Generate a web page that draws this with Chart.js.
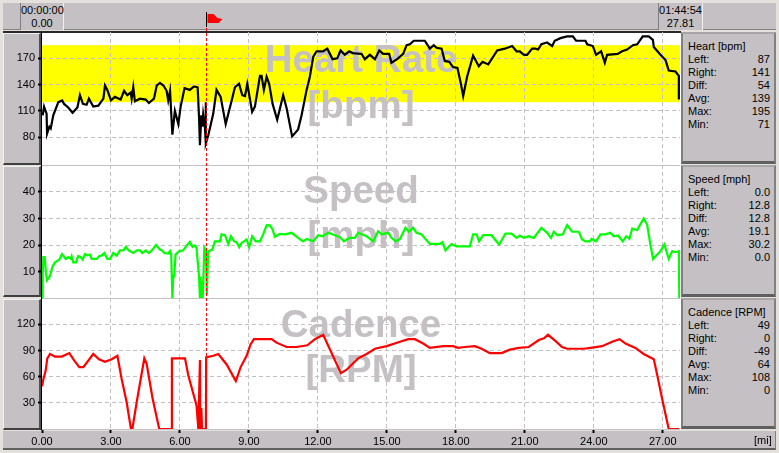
<!DOCTYPE html>
<html><head><meta charset="utf-8">
<style>
html,body{margin:0;padding:0;background:#e4e0dc;overflow:hidden}
body{width:779px;height:453px;position:relative;font:11px "Liberation Sans",Arial,sans-serif;color:#000}
.p{position:absolute;background:#c4c0c4;box-sizing:border-box}
canvas{position:absolute;left:0;top:0}
.cell{text-align:center;line-height:13px;padding-top:1px;border-left:1px solid #808080;border-right:1px solid #f0f0f0}
.side{border-left:2px solid #808080;border-top:2px solid #a8a4a8;border-bottom:3px solid #606060;border-right:2px solid #808080}
.row{position:absolute;left:5px;right:4px;height:13px;line-height:13px}
.row b{font-weight:normal;position:absolute;right:0;top:0}
.ls{border-right:2px solid #505050;border-bottom:2px solid #404040;border-left:1px solid #f0f0f0;border-top:1px solid #f0f0f0}
</style></head><body>
<div class="p" style="left:3px;top:3px;width:773px;height:27px;border-bottom:1px solid #808080"></div>
<div class="p cell" style="left:20px;top:3px;width:44px;height:27px">00:00:00<br>0.00</div>
<div class="p cell" style="left:658px;top:3px;width:45px;height:27px">01:44:54<br>27.81</div>
<div style="position:absolute;left:3px;top:31px;width:678px;height:2px;background:#282828"></div>
<div class="p ls" style="left:3px;top:33px;width:38px;height:132px"></div>
<div class="p ls" style="left:3px;top:166px;width:38px;height:131px"></div>
<div class="p ls" style="left:3px;top:299px;width:38px;height:131px"></div>
<div style="position:absolute;left:41px;top:32px;width:1px;height:398px;background:#000"></div>
<div style="position:absolute;left:42px;top:33px;width:639px;height:397px;background:#fff"></div>
<div class="p" style="left:3px;top:431px;width:773px;height:19px;border-bottom:2px solid #606060;border-right:1px solid #808080"></div>
<div id="sides"></div>
<canvas id="c" width="779" height="453"></canvas>
<script src="https://cdn.jsdelivr.net/npm/chart.js@4"></script>
<script>
const hrMiles=[0.03,0.09,0.20,0.22,0.32,0.38,0.49,0.71,0.88,0.96,1.14,1.33,1.54,1.65,1.78,1.94,2.04,2.23,2.45,2.67,2.74,2.84,3.0,3.17,3.42,3.57,3.71,3.86,3.9,3.97,4.04,4.26,4.51,4.65,4.87,4.99,5.13,5.28,5.42,5.49,5.57,5.67,5.78,5.93,6.03,6.2,6.43,6.61,6.77,6.83,6.87,6.93,6.97,7.01,7.09,7.12,7.13,7.23,7.45,7.59,7.77,7.99,8.25,8.39,8.57,8.71,8.83,8.93,9.14,9.26,9.48,9.55,9.65,9.77,9.88,10.03,10.23,10.49,10.64,10.88,11.14,11.29,11.51,11.65,11.8,11.94,12.23,12.41,12.64,12.84,12.99,13.17,13.36,13.51,13.9,14.04,14.26,14.48,14.67,14.84,15.1,15.2,15.45,15.71,15.86,16.0,16.17,16.65,16.87,17.04,17.16,17.38,17.52,17.71,17.88,18.07,18.22,18.32,18.49,18.75,19.0,19.16,19.41,19.8,20.13,20.45,20.64,20.78,20.96,21.1,21.32,21.46,21.58,21.72,21.97,22.19,22.3,22.55,22.84,23.09,23.23,23.64,23.71,23.96,24.1,24.32,24.48,24.58,25.04,25.23,25.45,25.7,25.89,26.13,26.39,26.57,26.61,26.9,27.12,27.26,27.55,27.7,27.7];
const hrValues=[105,115,107,84,92,90,105,120,122,118,114,108,114,128,118,117,124,115,116,124,139,134,122,126,123,133,128,131,124,137,121,124,123,119,124,139,142,139,133,122,133,83,110,95,115,136,134,138,137,103,71,105,92,106,90,120,73,82,107,134,126,95,122,137,141,128,127,141,109,115,150,150,134,149,141,118,100,128,113,81,89,105,134,149,172,178,178,181,169,170,179,174,178,176,175,169,174,169,179,175,175,165,169,175,185,186,190,190,181,185,182,181,167,166,160,159,141,127,149,173,161,166,163,179,181,184,178,178,174,174,181,181,180,186,188,184,190,193,195,195,190,190,186,184,174,178,165,174,175,178,180,185,186,195,195,191,183,174,168,156,155,150,123];
const speedMiles=[0,0.03,0.06,0.12,0.17,0.22,0.35,0.46,0.57,0.75,0.87,1.03,1.14,1.25,1.29,1.36,1.48,1.57,1.68,1.77,1.87,1.97,2.09,2.16,2.38,2.48,2.59,2.71,2.84,2.96,3.1,3.25,3.39,3.54,3.65,3.77,3.97,4.12,4.26,4.36,4.51,4.65,4.81,4.96,5.13,5.22,5.32,5.49,5.57,5.62,5.67,5.71,5.75,5.81,5.96,6.14,6.29,6.43,6.55,6.65,6.72,6.83,6.87,6.93,6.99,7.06,7.13,7.17,7.23,7.41,7.52,7.74,7.81,7.96,8.1,8.22,8.36,8.46,8.58,8.68,8.9,9.01,9.14,9.3,9.48,9.62,9.77,9.91,10.03,10.13,10.35,10.57,10.86,11.14,11.36,11.51,11.8,12.01,12.2,12.45,12.74,12.96,13.13,13.39,13.61,13.75,14.12,14.41,14.62,14.77,15.06,15.2,15.39,15.57,15.81,15.96,16.14,16.29,16.51,16.87,17.3,17.42,17.55,17.81,18.03,18.61,18.75,18.9,19.01,19.19,19.55,19.88,20.16,20.42,20.64,20.78,20.96,21.17,21.39,21.72,21.97,22.14,22.26,22.41,22.65,22.84,23.06,23.35,23.49,23.64,23.83,23.9,24.1,24.29,24.51,24.72,24.87,25.06,25.26,25.41,25.55,25.67,25.88,26.17,26.32,26.46,26.58,26.9,27.07,27.26,27.41,27.55,27.7,27.72];
const speedValues=[0,8.8,15.5,15.5,9.5,6.7,8.4,12,13.5,14.5,16.6,14.8,15.5,14.8,15.8,13.5,13.5,15.8,15.5,14.5,16.6,16.1,16.4,14.8,14.8,15.8,16,17,14.8,14.8,17,16,18,18,19.3,18,17,18,18,17,18,17,18.3,20,18.3,18,17,16.8,17.7,16.4,0,8.2,8.2,16.4,17.7,18,19.8,21.2,19.3,19.8,18.9,8.2,0,6.3,0,18.9,17.7,1.3,17.7,18.3,21.4,21.4,24,23.7,20.4,23.3,21.4,21.1,19.2,20.8,22.1,19.2,23.3,21.4,21.4,24,27.5,27.4,25.9,23.1,24.2,24,24.6,22.7,21.4,22.3,21.4,23.7,23.3,24.6,23.7,23,21.4,22.7,22.7,24.6,23.3,21.4,25.2,24,24.6,22.7,21.4,22.3,26.5,25,26.5,24.6,24,20.4,20.4,21.1,18,20.4,19.5,19.5,24,24,21.4,23.7,23.7,20.2,24.3,24.3,22.7,23.6,22.7,23.3,22.7,26.5,24.6,22.7,25,23.7,24,27.5,25,25,22.1,21.4,21.4,22.3,21.4,24,24,24.6,23.3,23.6,21.4,23.3,22.3,26.2,25.6,30,27.7,20.2,14.8,17.7,20.2,14.8,17.7,17.3,17.7,0];
const cadenceMiles=[0,0.06,0.16,0.23,0.35,0.57,0.86,1.19,1.39,1.62,1.8,2.23,2.48,2.74,3.03,3.28,3.46,3.68,3.87,3.93,4.12,4.45,4.55,4.81,5.1,5.64,5.65,6.22,6.36,6.72,6.8,6.87,6.88,6.93,6.96,7.13,7.14,7.45,7.67,8.03,8.43,8.64,8.9,9.07,9.22,9.48,9.99,10.2,10.64,11.07,11.54,11.87,12.23,13.0,13.25,13.75,14.12,14.48,14.99,15.57,15.93,16.22,16.58,16.87,17.45,17.88,18.1,18.39,18.83,19.12,19.48,19.99,20.35,20.74,21.17,21.61,21.83,22.01,22.33,22.62,22.84,23.57,23.86,24.36,24.8,25.12,25.38,25.81,26.17,26.61,26.75,26.97,27.26,27.72];
const cadenceValues=[49,57,67,81,86,83,83,87,79,71,71,86,80,77,80,84,58,31,0,0,31,81,75,35,0,0,81,81,62,27,0,79,0,24,0,0,82,84,86,74,55,71,84,97,103,103,103,99,94,94,96,103,108,64,68,81,86,92,95,100,103,103,98,93,95,95,93,94,95,92,87,87,91,93,94,102,104,108,101,94,92,92,93,95,100,103,98,93,86,80,63,35,0,0];
const xTicks=[0,3,6,9,12,15,18,21,24,27];
const hrTicks=[80,110,140,170];
const speedTicks=[10,20,30,40];
const cadenceTicks=[30,60,90,120];
const hrZone=[120,185];
const markerMile=7.15;
const statLabels=["Left:","Right:","Diff:","Avg:","Max:","Min:"];
const hrStats=["87","141","54","139","195","71"];
const speedStats=["0.0","12.8","12.8","19.1","30.2","0.0"];
const cadenceStats=["49","0","-49","64","108","0"];

const zip=(a,b)=>a.map((x,i)=>({x,y:b[i]}));
const FONT='"Liberation Sans",Arial,sans-serif';
[["Heart [bpm]",hrStats,32,132],["Speed [mph]",speedStats,165,132],["Cadence [RPM]",cadenceStats,298,131]].forEach(([t,s,top,h])=>{
  let html='<div class="row" style="top:6px">'+t+'</div>';
  s.forEach((v,i)=>{html+='<div class="row" style="top:'+(19+i*13)+'px">'+statLabels[i]+'<b>'+v+'</b></div>';});
  const d=document.createElement('div');d.className='p side';
  d.style.cssText='left:681px;top:'+top+'px;width:95px;height:'+h+'px';d.innerHTML=html;
  document.getElementById('sides').appendChild(d);
});
const marks=[["y1","Heart Rate","[bpm]",72,118],["y2","Speed","[mph]",203,248],["y3","Cadence","[RPM]",337,382]];
const backdrop={id:'backdrop',beforeDraw(ch){
  const c=ch.ctx,a=ch.chartArea,y=ch.scales.y1;
  c.save();
  c.fillStyle='#ffff00';
  c.fillRect(a.left,y.getPixelForValue(hrZone[1]),a.right-a.left,y.getPixelForValue(hrZone[0])-y.getPixelForValue(hrZone[1]));
  c.fillStyle='#c4c0c4';c.textAlign='center';c.textBaseline='alphabetic';
  c.font='bold 38.5px '+FONT;
  const mid=361;
  marks.forEach(m=>{c.fillText(m[1],mid,m[3]);c.fillText(m[2],mid,m[4]);});
  c.restore();
},
beforeDatasetsDraw(ch){
  const c=ch.ctx,a=ch.chartArea;
  c.save();c.strokeStyle='#c4c0c4';c.lineWidth=1;
  ['y2','y3'].forEach(k=>{const t=Math.round(ch.scales[k].top)+.5;c.beginPath();c.moveTo(a.left,t);c.lineTo(a.right,t);c.stroke();});
  const b=Math.round(a.bottom)+.5;c.beginPath();c.moveTo(a.left,b);c.lineTo(a.right,b);c.stroke();
  c.restore();
},
afterDatasetsDraw(ch){
  const c=ch.ctx,a=ch.chartArea,p=Math.round(ch.scales.x.getPixelForValue(markerMile))+.5;
  c.save();c.strokeStyle='#ff0000';c.lineWidth=1;c.setLineDash([3,2]);
  c.beginPath();c.moveTo(p,13);c.lineTo(p,a.bottom);c.stroke();
  c.setLineDash([]);c.strokeStyle='#000';c.beginPath();c.moveTo(p,12);c.lineTo(p,27);c.stroke();
  c.fillStyle='#ff0000';c.beginPath();
  [[1,14],[7,14],[11,18],[16,19],[12,23],[1,23]].forEach((q,i)=>i?c.lineTo(p+q[0],q[1]):c.moveTo(p+q[0],q[1]));
  c.closePath();c.fill();
  c.fillStyle='#000';c.font='11px '+FONT;c.textAlign='left';c.textBaseline='middle';
  c.fillText('[mi]',754,441);
  c.restore();
}};
const yAxis=(min,max,ticks,w)=>({type:'linear',position:'left',stack:'all',stackWeight:w,min,max,
  afterBuildTicks(s){s.ticks=ticks.map(value=>({value}));},
  afterFit(s){s.width=42;},
  border:{display:false,dash:[4,3]},
  grid:{color:'#c4c0c4',lineWidth:1,tickColor:'#000',tickLength:4,tickWidth:2,tickBorderDash:[]},
  ticks:{color:'#000',font:{family:FONT,size:11},padding:3,callback:v=>String(v)}});
new Chart(document.getElementById('c'),{
  type:'line',
  data:{datasets:[
    {label:'Heart',data:zip(hrMiles,hrValues),borderColor:'#000',yAxisID:'y1'},
    {label:'Speed',data:zip(speedMiles,speedValues),borderColor:'#00ff00',yAxisID:'y2'},
    {label:'Cadence',data:zip(cadenceMiles,cadenceValues),borderColor:'#ff0000',yAxisID:'y3'}
  ]},
  options:{responsive:false,animation:false,parsing:true,
    layout:{padding:{top:32,right:99,left:0,bottom:0}},
    elements:{point:{radius:0},line:{borderWidth:2.2,tension:0,borderJoinStyle:'miter'}},
    plugins:{legend:{display:false},tooltip:{enabled:false}},
    scales:{
      x:{type:'linear',min:0,max:27.75,
        afterBuildTicks(s){s.ticks=xTicks.map(value=>({value}));},
        afterFit(s){s.height=24;},
        border:{display:false,dash:[4,3]},
        grid:{color:c=>c.tick&&c.tick.value===0?'rgba(0,0,0,0)':'#c4c0c4',lineWidth:1,tickColor:'#000',tickLength:4,tickWidth:2,tickBorderDash:[]},
        ticks:{color:'#000',font:{family:FONT,size:11},padding:2,maxRotation:0,autoSkip:false,callback:v=>v.toFixed(2)}},
      y1:Object.assign(yAxis(48,200,hrTicks,133),{weight:3}),
      y2:Object.assign(yAxis(0,50,speedTicks,132.5),{weight:2}),
      y3:Object.assign(yAxis(0,150,cadenceTicks,130.5),{weight:1})
    }},
  plugins:[backdrop]
});
</script>
</body></html>
